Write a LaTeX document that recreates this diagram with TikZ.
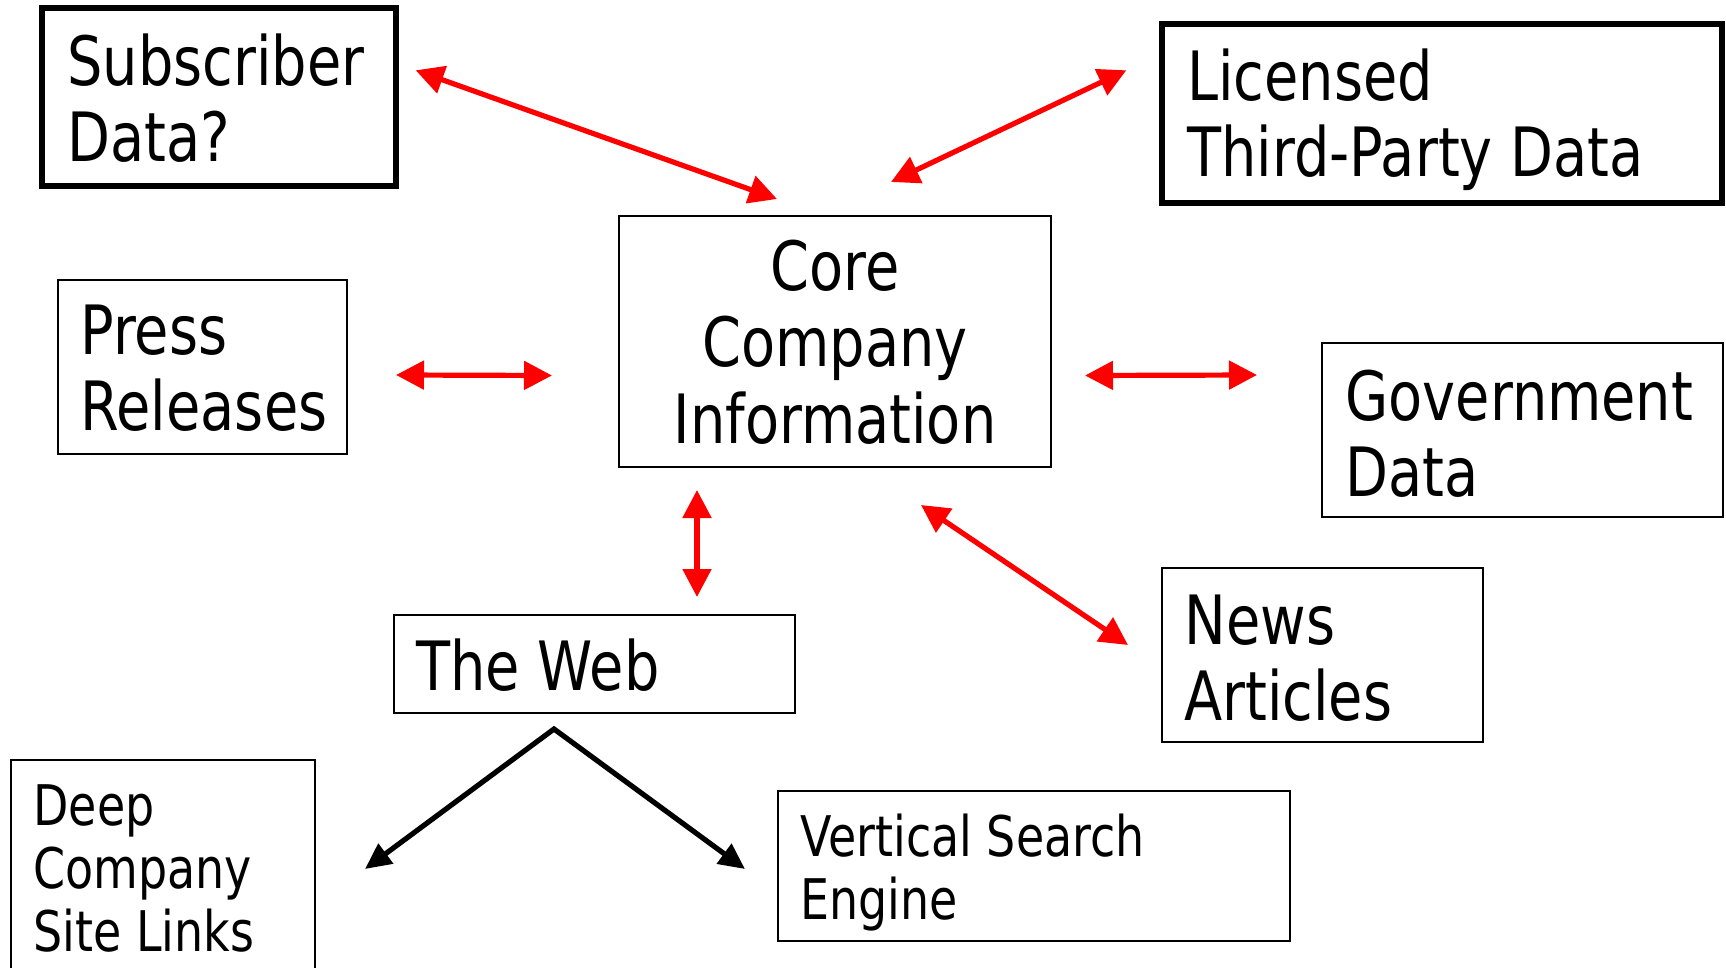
\documentclass[tikz,border=0pt]{standalone}
\usepackage{fontspec}
\setmainfont{DejaVu Sans}[FakeStretch=0.82]
\usetikzlibrary{arrows.meta,fit}
\begin{document}
\begin{tikzpicture}[x=0.5pt,y=-0.5pt,
  box/.style={draw, line width=1pt, inner sep=0pt},
  heavybox/.style={draw, line width=2.7pt, inner sep=0pt},
  big/.style={inner sep=0pt, align=left, font=\fontsize{34}{38}\selectfont},
  bigc/.style={inner sep=0pt, align=center, font=\fontsize{34}{38.5}\selectfont},
  small/.style={inner sep=0pt, align=left, font=\fontsize{28}{31.3}\selectfont},
  link/.style={red, line width=2.6pt,
    {Triangle[length=14pt,width=14pt]}-{Triangle[length=14pt,width=14pt]}},
  branch/.style={black, line width=2.6pt, line join=miter,
    {Triangle[length=13pt,width=12pt]}-{Triangle[length=13pt,width=12pt]}}]
\clip (0,0) rectangle (1726,968);

% boxes
\node[heavybox, fit={(42,8) (396,186)}] (sub) {};
\node[heavybox, fit={(1162,24) (1722,203)}] (lic) {};
\node[box, fit={(619,216) (1051,467)}] (core) {};
\node[box, fit={(58,280) (347,454)}] (press) {};
\node[box, fit={(1322,343) (1723,517)}] (gov) {};
\node[box, fit={(1162,568) (1483,742)}] (news) {};
\node[box, fit={(394,615) (795,713)}] (web) {};
\node[box, fit={(11,760) (315,1000)}] (deep) {};
\node[box, fit={(778,791) (1290,941)}] (vert) {};

% texts (anchored at the baseline of their last line)
\node[big, anchor=base west] (subT) at (67,162) {Subscriber\\Data?};
\node[big, anchor=base west] (licT) at (1187,177) {Licensed\\Third-Party Data};
\node[bigc, anchor=base] (coreT) at (835,444) {Core\\Company\\Information};
\node[big, anchor=base west] (pressT) at (80,430) {Press\\Releases};
\node[big, anchor=base west] (govT) at (1345,496) {Government\\Data};
\node[big, anchor=base west] (newsT) at (1184,720) {News\\Articles};
\node[big, anchor=base west] (webT) at (416,690) {The Web};
\node[small, anchor=base west] (deepT) at (33,951) {Deep\\Company\\Site Links};
\node[small, anchor=base west] (vertT) at (800,919) {Vertical Search\\Engine};

% arrow end points
\coordinate (subA)   at ([shift={(17,65)}]sub.north east);
\coordinate (coreA)  at ([shift={(159,-16)}]core.north west);
\coordinate (licA)   at ([shift={(-33,49)}]lic.north west);
\coordinate (coreB)  at ([shift={(273,-33)}]core.north west);
\coordinate (pressA) at ([shift={(48,8)}]press.east);
\coordinate (coreC)  at ([shift={(-66,34)}]core.west);
\coordinate (coreD)  at ([shift={(33,34)}]core.east);
\coordinate (govA)   at ([shift={(-64,-55)}]gov.west);
\coordinate (coreE)  at ([shift={(79,22)}]core.south west);
\coordinate (webA)   at ([shift={(304,-17)}]web.north west);
\coordinate (coreF)  at ([shift={(303,37)}]core.south west);
\coordinate (newsA)  at ([shift={(-33,78)}]news.north west);
\coordinate (apex)   at ([shift={(161,15)}]web.south west);
\coordinate (deepA)  at ([shift={(49,110)}]deep.north east);
\coordinate (vertA)  at ([shift={(-32,79)}]vert.north west);

% connectors
\draw[link] (subA) -- (coreA);
\draw[link] (licA) -- (coreB);
\draw[link] (pressA) -- (coreC);
\draw[link] (coreD) -- (govA);
\draw[link] (coreE) -- (webA);
\draw[link] (coreF) -- (newsA);
\draw[branch] (deepA) -- (apex) -- (vertA);
\end{tikzpicture}
\end{document}
